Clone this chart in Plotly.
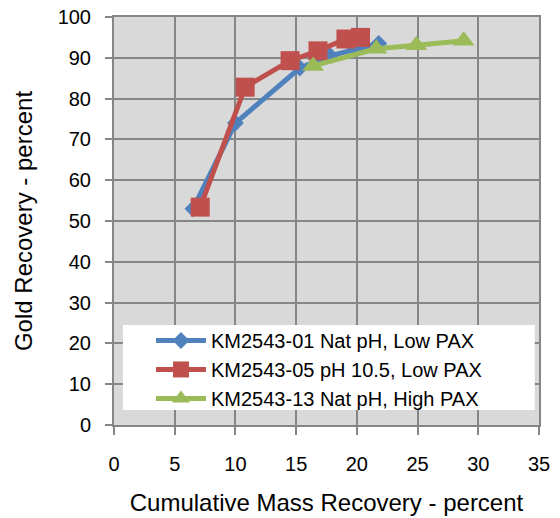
import plotly.graph_objects as go

# Data
s1_name = "KM2543-01 Nat pH, Low PAX"
s1_x = [6.5, 10.0, 15.3, 17.8, 19.8, 21.8]
s1_y = [53.0, 74.0, 87.5, 90.5, 92.0, 93.5]

s2_name = "KM2543-05 pH 10.5, Low PAX"
s2_x = [7.1, 10.8, 14.5, 16.8, 19.1, 20.3]
s2_y = [53.4, 82.8, 89.3, 91.7, 94.6, 95.0]

s3_name = "KM2543-13 Nat pH, High PAX"
s3_x = [16.4, 21.6, 24.9, 28.8]
s3_y = [88.0, 92.2, 93.1, 94.2]

x_ticks = [0, 5, 10, 15, 20, 25, 30, 35]
y_ticks = [0, 10, 20, 30, 40, 50, 60, 70, 80, 90, 100]

BLUE = "#4F81BD"
RED = "#C0504D"
GREEN = "#9BBB59"
GRID = "#868686"
FONT = "Liberation Sans, Arial, sans-serif"

fig = go.Figure()
fig.add_trace(go.Scatter(x=s1_x, y=s1_y, name=s1_name, mode="lines+markers",
                         line=dict(color=BLUE, width=5),
                         marker=dict(symbol="diamond", size=13, color=BLUE)))
fig.add_trace(go.Scatter(x=s2_x, y=s2_y, name=s2_name, mode="lines+markers",
                         line=dict(color=RED, width=5),
                         marker=dict(symbol="square", size=19, color=RED)))
fig.add_trace(go.Scatter(x=s3_x, y=s3_y, name=s3_name, mode="lines+markers",
                         line=dict(color=GREEN, width=5),
                         marker=dict(symbol="triangle-up", size=19, color=GREEN)))

# white legend box
fig.add_shape(type="rect", xref="paper", yref="paper",
              x0=0.021, x1=0.99, y0=0.037, y1=0.245,
              fillcolor="white", line=dict(width=0), layer="above")

fig.update_layout(
    width=560, height=518,
    margin=dict(l=114, r=21, t=17, b=93),
    paper_bgcolor="white",
    plot_bgcolor="#D9D9D9",
    font=dict(family=FONT, size=20, color="black"),
    showlegend=True,
    legend=dict(x=0.087, y=0.255, xanchor="left", yanchor="top",
                bgcolor="rgba(0,0,0,0)", font=dict(size=20),
                tracegroupgap=0, itemwidth=50),
    xaxis=dict(range=[0, 35], tickvals=x_ticks, showgrid=True, gridcolor=GRID,
               gridwidth=2, showline=True, linecolor=GRID, linewidth=2, mirror=True,
               ticks="outside", ticklen=8, tickwidth=2, tickcolor=GRID,
               ticklabelstandoff=12, zeroline=False, automargin=False,
               title=dict(text="Cumulative Mass Recovery - percent", standoff=20)),
    yaxis=dict(range=[0, 100], tickvals=y_ticks, showgrid=True, gridcolor=GRID,
               gridwidth=2, showline=True, linecolor=GRID, linewidth=2, mirror=True,
               ticks="outside", ticklen=7, tickwidth=2, tickcolor=GRID,
               ticklabelstandoff=10, zeroline=False, automargin=False,
               title=dict(text="Gold Recovery - percent", standoff=18)),
)

fig.write_html("out.html", config={"displayModeBar": False},
               post_script="document.body.style.margin='0';document.body.style.overflow='hidden';")
